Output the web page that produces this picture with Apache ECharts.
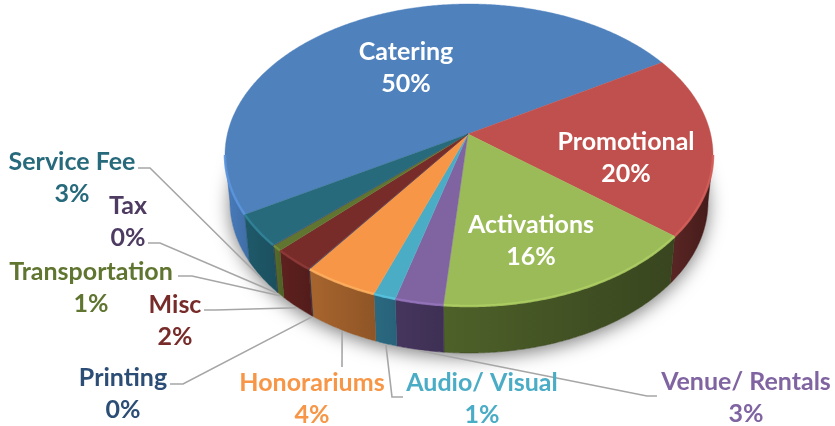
<!DOCTYPE html>
<html><head><meta charset="utf-8">
<style>html,body{margin:0;padding:0;background:#fff}#c{width:835px;height:426px;filter:blur(0.45px)}</style>
<script src="https://cdn.jsdelivr.net/npm/echarts@6/dist/echarts.min.js"></script>
</head><body><div id="c"></div>
<script>
// ---- data
const categories = ['Catering','Promotional','Activations','Venue/ Rentals','Audio/ Visual','Honorariums','Printing','Misc','Transportation','Tax','Service Fee'];
const shares = [49.8,19.5,15.6,2.8,1.3,4.4,0.05,2.45,0.6,0.05,3.45];
// ---- styles
const topColors = ['#4F81BD','#C0504D','#9BBB59','#8064A2','#4BACC6','#F79646','#2C4D75','#772C2A','#5F7530','#4D3B62','#276A7C'];
const rimColors = ['#5C97DE','#D65F5B','#AFD064','#9676BE','#58C4E0','#FFB060','#3A6090','#8E3A37','#76913C','#5E4A78','#318499'];
const wallLeft  = ['#4A7DBE','#5A2624','#4E6129','#46365E','#2A6A80','#A8652E','#1E3552','#5E211F','#566B2A','#3A2C4A','#1F5A6A'];
const wallRight = ['#3F6CA4','#431B1A','#38451F','#3E2F54','#28627A','#8F5526','#1E3552','#521C1A','#4D6026','#3A2C4A','#1B4F5E'];
const labelColors = ['#fff','#fff','#fff','#8064A2','#4BACC6','#F79646','#2C4D75','#772C2A','#5F7530','#4D3B62','#276A7C'];
// ---- layout
const labelCentres = [[406,68],[626,158],[531,241],[746,398],[482,399],[312,399],[123,394],[175,321],[91,288],[128,222],[72,178]];
const leaderStubs = [null,null,null,[[657,396],[647,396]],[[403,397],[392,397]],[[342,367]],[[170,384],[183,384]],[[204,310],[216,310]],[[178,276],[192,276]],[[148,243],[160,243]],[[138,168],[150,168]]];
const topRim = {cx:469, cy:155, rx:244, ry:151};
const baseRim = {cx:469, cy:202, rx:239, ry:151};
const apexX = 468, apexY = 134, startDeg = 149.6, leaderGap = 1;
const v0 = (apexY-topRim.cy)/topRim.ry;

const total = shares.reduce((a,b)=>a+b,0);
const rad = d=>d*Math.PI/180;
function rimPoint(deg,e,grow){
  const a=Math.cos(rad(deg)), b=Math.sin(rad(deg)), d=1+b*v0;
  const u=a*Math.sqrt(1-v0*v0)/d, v=(b+v0)/d, g=grow||0;
  return [e.cx+u*(e.rx+g), e.cy+v*(e.ry+g)];
}
function arc(from,to,e){
  const pts=[], n=Math.max(2,Math.ceil(Math.abs(to-from)/0.5));
  for(let i=0;i<=n;i++) pts.push(rimPoint(from+(to-from)*i/n,e));
  return pts;
}
function sliceAngles(i){
  let s=0; for(let k=0;k<i;k++) s+=shares[k];
  return [startDeg+s/total*360, startDeg+(s+shares[i])/total*360];
}
// the part of a slice's rim that faces the viewer
function frontRange(a0,a1){
  const lo=Math.asin(-v0)*180/Math.PI, hi=180-lo;
  for(const off of [0,-360]){
    const f=Math.max(a0+off,lo), t=Math.min(a1+off,hi);
    if(t>f) return [f,t];
  }
  return null;
}
function renderItem(params,api){
  const i=params.dataIndex, [a0,a1]=sliceAngles(i), kids=[];
  if(i===0){
    kids.push({type:'polygon',z2:0,shape:{points:arc(0,360,baseRim)},
      style:{fill:'#fff',shadowBlur:18,shadowColor:'rgba(0,0,0,0.5)',shadowOffsetY:4}});
  }
  const fr=frontRange(a0,a1);
  if(fr){
    const t=arc(fr[0],fr[1],topRim), b=arc(fr[0],fr[1],baseRim).reverse();
    kids.push({type:'polygon',z2:1,shape:{points:t.concat(b)},
      style:{fill:{type:'linear',x:0,y:0,x2:1,y2:0,colorStops:[{offset:0,color:wallLeft[i]},{offset:1,color:wallRight[i]}]},stroke:wallRight[i],lineWidth:0.5}});
  }
  kids.push({type:'polygon',z2:2,shape:{points:[[apexX,apexY]].concat(arc(a0,a1,topRim))},
    style:{fill:topColors[i],stroke:topColors[i],lineWidth:0.4}});
  if(fr){
    kids.push({type:'polyline',z2:3,shape:{points:arc(fr[0],fr[1],topRim)},
      style:{fill:'none',stroke:rimColors[i],lineWidth:2.5,opacity:.85}});
  }
  if(leaderStubs[i]){
    const mid=(a0+a1)/2, end=rimPoint(mid,baseRim,leaderGap);
    kids.push({type:'polyline',z2:4,shape:{points:leaderStubs[i].concat([end])},
      style:{fill:'none',stroke:'#A6A6A6',lineWidth:1.6}});
  }
  kids.push({type:'text',z2:5,x:labelCentres[i][0],y:labelCentres[i][1],
    style:{text:categories[i]+'\n'+Math.round(api.value(0))+'%',fill:labelColors[i],
      font:'bold 25px Lato',lineHeight:32,align:'center',verticalAlign:'middle'}});
  return {type:'group',children:kids};
}
const chart=echarts.init(document.getElementById('c'),null,{renderer:'canvas'});
chart.setOption({animation:false,backgroundColor:'#fff',
  series:[{type:'custom',coordinateSystem:'none',renderItem,silent:true,clip:false,
    data:shares.map((v,i)=>({name:categories[i],value:[v]}))}]});
</script></body></html>
